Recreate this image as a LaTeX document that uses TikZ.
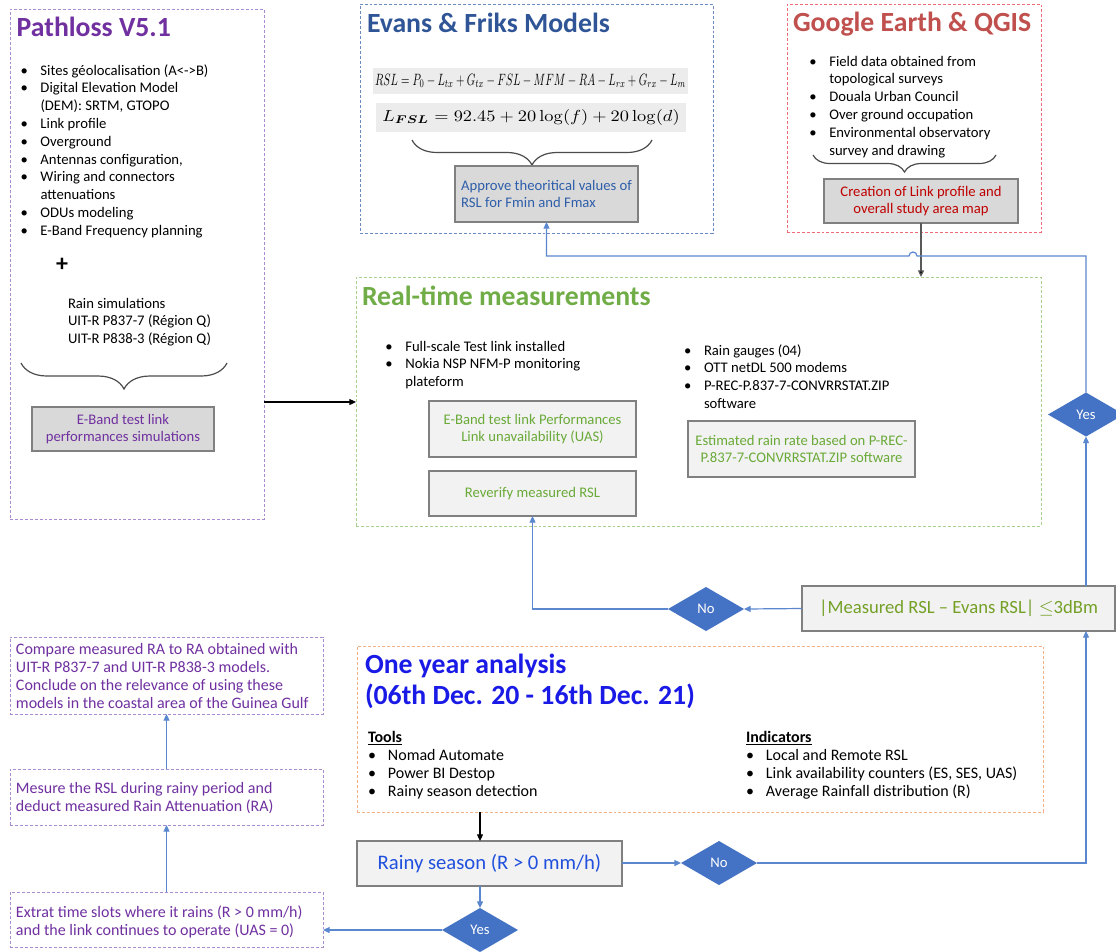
\documentclass[tikz,border=0pt]{standalone}
\usepackage[no-math]{fontspec}
\setmainfont{Carlito}
\usepackage{amsmath}
\usepackage{bm}
\usepackage{graphicx}
\usetikzlibrary{fit,shapes.geometric,arrows.meta,decorations.pathreplacing,calc}

\definecolor{cpurple}{HTML}{7030A0}
\definecolor{cpurpled}{HTML}{A98BD0}
\definecolor{cevans}{HTML}{2F5597}
\definecolor{cevansd}{HTML}{6A8AC0}
\definecolor{cevtext}{HTML}{2E5EAA}
\definecolor{cgred}{HTML}{C0504D}
\definecolor{cgredd}{HTML}{F06A78}
\definecolor{cgtext}{HTML}{C00000}
\definecolor{cgreen}{HTML}{70AD47}
\definecolor{cgreend}{HTML}{A9D18E}
\definecolor{cgtext2}{HTML}{6AAA38}
\definecolor{colive}{HTML}{74A026}
\definecolor{corange}{HTML}{F4B183}
\definecolor{cblue}{HTML}{1A1AE6}
\definecolor{crainy}{HTML}{2050DD}
\definecolor{cline}{HTML}{5B87CF}
\definecolor{cdia}{HTML}{4472C4}
\definecolor{gfill}{HTML}{D9D9D9}
\definecolor{lfill}{HTML}{F2F2F2}
\definecolor{gborder}{HTML}{808080}
\definecolor{eqband}{HTML}{ECECEC}

\newcommand{\fsize}[2]{\fontsize{#1}{#2}\selectfont}
\newcommand{\bl}{\makebox[15pt][l]{\textbullet}}
\newcommand{\ci}{\hspace*{15pt}}
\newcommand{\rows}[1]{\begin{tabular}[t]{@{}l@{}}#1\end{tabular}}

\tikzset{
  every node/.style={inner sep=0pt, outer sep=0pt},
  dbox/.style={draw=#1, line width=0.75pt, dash pattern=on 2.2pt off 1.5pt},
  gbox/.style={draw=gborder, fill=gfill, line width=0.8pt},
  lbox/.style={draw=gborder, fill=lfill, line width=0.8pt},
  txt/.style={anchor=base west, font=\fsize{11}{13.35}},
  boxtxt/.style={font=\fsize{11}{13.35}},
  title/.style={anchor=base west, font=\fsize{20.8}{23.25}\bfseries},
  dia/.style={diamond, fill=cdia, minimum width=57pt, minimum height=33pt, text=white, font=\fsize{11}{13}, aspect=1.7},
  barrow/.style={draw=cline, line width=0.9pt, -{Triangle[length=5pt,width=4.5pt]}},
  karrow/.style={draw=black, line width=0.8pt, -{Triangle[length=5pt,width=4.5pt]}},
  bracest/.style={draw=gray!60!black, line width=0.9pt, decorate, decoration={brace, amplitude=#1}},
}

\begin{document}
\begin{tikzpicture}[x=0.75pt, y=-0.75pt]
\fill[white] (0,0) rectangle (1116,951);
\useasboundingbox (0,0) rectangle (1116,951);

% ---------------- Pathloss ----------------
\node[dbox=cpurpled, fit={(10,9)(264,519)}] (pl) {};
\node[title, text=cpurple] (pltitle) at (16.7,36) {Pathloss V5.1};
\node[txt] (pllist) at (20.5,75) {\rows{\bl Sites géolocalisation (A<->B)\\ \bl Digital Elevation Model\\ \ci (DEM): SRTM, GTOPO\\ \bl Link profile\\ \bl Overground\\ \bl Antennas configuration,\\ \bl Wiring and connectors\\ \ci attenuations\\ \bl ODUs modeling\\ \bl E-Band Frequency planning}};
\node[font=\fsize{18}{18}\bfseries] (plus) at (62,265) {+};
\node[txt] (rain) at (68,308) {\rows{Rain simulations\\UIT-R P837-7 (Région Q)\\UIT-R P838-3 (Région Q)}};
\draw[bracest=19.5pt] (227,363) -- (21,363);
\node[gbox, fit={(32,407)(214,451)}] (ebsim) {};
\node[boxtxt, align=center, text=cpurple] (ebsimt) at (ebsim.center) {E-Band test link\\performances simulations};

% ---------------- Evans ----------------
\node[dbox=cevansd, fit={(360,4)(713,233)}] (ev) {};
\node[title, text=cevans] (evtitle) at (367,32) {Evans \& Friks Models};
\node[fill=eqband, fit={(373,68)(688,94)}] (eq1b) {};
\node (eq1) at (eq1b.center) {\resizebox{233pt}{8.4pt}{$RSL = P_0 - L_{tx} + G_{tx} - FSL - MFM - RA - L_{rx} + G_{rx} - L_m$}};
\node[fill=eqband, fit={(376,103)(686,132)}] (eq2b) {};
\node (eq2) at (eq2b.center) {\resizebox{223pt}{9pt}{$L_{\bm{FSL}} = 92.45 + 20\log(f) + 20\log(d)$}};
\draw[bracest=18.75pt] (652,140) -- (412,140);
\node[gbox, fit={(455,166)(638,222)}] (approve) {};
\node[boxtxt, align=left, text=cevtext] (approvet) at (approve.center) {Approve theoritical values of\\RSL for Fmin and Fmax};

% ---------------- Google ----------------
\node[dbox=cgredd, fit={(787,4)(1041,232)}] (ge) {};
\node[title, text=cgred] (getitle) at (793,31) {Google Earth \& QGIS};
\node[txt] (gelist) at (809.3,66) {\rows{\bl Field data obtained from\\ \ci topological surveys\\ \bl Douala Urban Council\\ \bl Over ground occupation\\ \bl Environmental observatory\\ \ci survey and drawing}};
\draw[bracest=12.75pt] (996,155) -- (813,155);
\node[gbox, fit={(824,179)(1018,223)}] (gcreate) {};
\node[boxtxt, align=center, text=cgtext] (gcreatet) at (gcreate.center) {Creation of Link profile and\\overall study area map};

% ---------------- Real-time ----------------
\node[dbox=cgreend, fit={(356,277)(1041,526)}] (rt) {};
\node[title, text=cgreen] (rttitle) at (362,305) {Real-time measurements};
\node[txt] (rtl) at (385.3,351) {\rows{\bl Full-scale Test link installed\\ \bl Nokia NSP NFM-P monitoring\\ \ci plateform}};
\node[txt] (rtr) at (684,355) {\rows{\bl Rain gauges (04)\\ \bl OTT netDL 500 modems\\ \bl P-REC-P.837-7-CONVRRSTAT.ZIP\\ \ci software}};
\node[lbox, fit={(429,401)(636,457)}] (ebperf) {};
\node[boxtxt, align=center, text=cgtext2] (ebperft) at (ebperf.center) {E-Band test link Performances\\Link unavailability (UAS)};
\node[lbox, fit={(429,471)(636,516)}] (reverify) {};
\node[boxtxt, text=cgtext2] (reverifyt) at (reverify.center) {Reverify measured RSL};
\node[lbox, fit={(688,421)(915,477)}] (est) {};
\node[boxtxt, align=center, text=cgtext2] (estt) at (est.center) {Estimated rain rate based on P-REC-\\P.837-7-CONVRRSTAT.ZIP software};

% ---------------- Measured check ----------------
\node[lbox, fit={(802,586)(1115,631)}] (meas) {};
\node[text=colive, font=\fsize{14}{16}] (meast) at (meas.center) {|Measured RSL – Evans RSL| $\leq$3dBm};

% ---------------- Diamonds ----------------
\node[dia] (no1) at (706,609) {No};
\node[dia] (yesR) at (1086,414.5) {Yes};
\node[dia] (no2) at (719,863) {No};
\node[dia] (yes2) at (480,930) {Yes};

% ---------------- One year analysis ----------------
\node[dbox=corange, fit={(357,646)(1043,812)}] (oya) {};
\node[title, text=cblue] (oyat) at (365,673) {\rows{One year analysis\\(06th Dec. 20 - 16th Dec. 21)}};
\node[anchor=base west, font=\fsize{12}{13.5}] (tools) at (368,742) {\rows{\textbf{\underline{Tools}}\\ \bl Nomad Automate\\ \bl Power BI Destop\\ \bl Rainy season detection}};
\node[anchor=base west, font=\fsize{12}{13.5}] (indic) at (746,742) {\rows{\textbf{\underline{Indicators}}\\ \bl Local and Remote RSL\\ \bl Link availability counters (ES, SES, UAS)\\ \bl Average Rainfall distribution (R)}};

\node[lbox, fit={(357,841)(622,886)}] (rainy) {};
\node[text=crainy, font=\fsize{15.5}{18}] (rainyt) at (rainy.center) {Rainy season (R > 0 mm/h)};

% ---------------- Left purple boxes ----------------
\node[dbox=cpurpled, fit={(10,637)(323,714)}] (compare) {};
\node[txt, font=\fsize{12}{13.5}, text=cpurple] (comparet) at (16,654) {\rows{Compare measured RA to RA obtained with\\UIT-R P837-7 and UIT-R P838-3 models.\\Conclude on the relevance of using these\\models in the coastal area of the Guinea Gulf}};
\node[dbox=cpurpled, fit={(10,769)(323,825)}] (mesure) {};
\node[txt, font=\fsize{12}{13.5}, text=cpurple] (mesuret) at (16,793) {\rows{Mesure the RSL during rainy period and\\deduct measured Rain Attenuation (RA)}};
\node[dbox=cpurpled, fit={(10,892)(323,947)}] (extrat) {};
\node[txt, font=\fsize{12}{13.5}, text=cpurple] (extratt) at (16,917) {\rows{Extrat time slots where it rains (R > 0 mm/h)\\and the link continues to operate (UAS = 0)}};

% ---------------- Connectors ----------------
\coordinate (plout) at (264,402);
\draw[karrow] (plout) -- (plout -| rt.west);
\draw[draw=gray!70!black, line width=0.9pt, -{Triangle[length=5pt,width=4.5pt,fill=black]}] (gcreate.south) -- (gcreate.south |- rt.north);
\coordinate (hopR) at (917,256);
\coordinate (hopL) at (909,256);
\draw[barrow] (yesR.north) |- (hopR) arc[start angle=0, end angle=180, radius=3pt] -- (approve.south |- hopL) -- (approve.south);
\draw[barrow] (yesR.south |- meas.north) -- (yesR.south);
\draw[barrow] (meas.west) -- (no1.east);
\draw[barrow] (no1.west) -| (reverify.south);
\draw[karrow] (yes2.north |- oya.south) -- (yes2.north |- rainy.north);
\draw[barrow] (rainy.east |- no2) -- (no2.west);
\draw[barrow] (no2.east) -| (yesR.south |- meas.south);
\draw[barrow] (yes2.north |- rainy.south) -- (yes2.north);
\draw[barrow] (yes2.west) -- (yes2.west -| extrat.east);
\draw[barrow] (extrat.north) -- (mesure.south);
\draw[barrow] (mesure.north) -- (compare.south);
\end{tikzpicture}
\end{document}
